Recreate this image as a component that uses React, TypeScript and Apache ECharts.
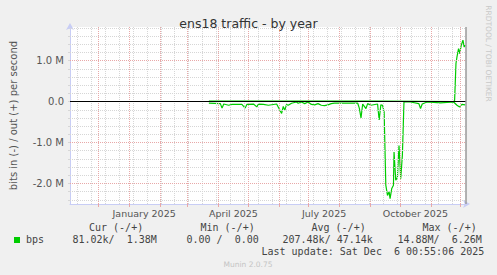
import React, { useEffect, useRef } from 'react';
import * as echarts from 'echarts';

// x values: days relative to 1 January 2025
const monthStartDays = [-31, 0, 31, 59, 90, 120, 151, 181, 212, 243, 273, 304, 334];
const minorGridDays = [-52, -38, -24, -10, 4, 18, 32, 46, 60, 74, 88, 102, 116, 130, 144, 158, 172, 186, 200, 214, 228, 242, 256, 270, 284, 298, 312, 326];
const quarterLabelDays = [15.2, 105.2, 196.5, 288.5];
const quarterLabels = ['January 2025', 'April 2025', 'July 2025', 'October 2025'];

const yLabelValues = [-2e6, -1e6, 0, 1e6];
const yMajorGrid = [-2e6, -1e6, 1e6];
const yMinorGrid = [-2.4e6, -2.2e6, -1.8e6, -1.6e6, -1.4e6, -1.2e6, -0.8e6, -0.6e6, -0.4e6, -0.2e6, 0.2e6, 0.4e6, 0.6e6, 0.8e6, 1.2e6, 1.4e6, 1.6e6, 1.8e6];
const yTickValues = [-2.4e6, -2.2e6, -2e6, -1.8e6, -1.6e6, -1.4e6, -1.2e6, -1e6, -0.8e6, -0.6e6, -0.4e6, -0.2e6, 0, 0.2e6, 0.4e6, 0.6e6, 0.8e6, 1e6, 1.2e6, 1.4e6, 1.6e6, 1.8e6];

// "in" traffic (drawn negative), bits per second
const inDays = [80.4, 92, 93.7, 95.4, 100.4, 103.7, 113.7, 117, 118.7, 125.4, 128.7, 130.4, 135.4, 140.4, 148.7, 152, 153.7, 155.4, 157, 158.7, 160.4, 163.7, 168.7, 170.4, 173.7, 177, 180.4, 183.7, 187, 190.4, 193.7, 197, 200.4, 203.7, 207, 220.4, 230.4, 232, 233.7, 235.4, 238.7, 240.4, 243.7, 250.4, 252, 253.7, 255.4, 257, 258.7, 260.4, 262, 263, 264.7, 266.4, 267, 268.7, 270.4, 272, 273.7, 275.4, 277, 283.7, 292, 293.7, 295.4, 300.4, 313.7, 327, 330.4, 333, 335.4, 338.7];
const inValues = [-0.04e6, -0.05e6, -0.16e6, -0.06e6, -0.09e6, -0.07e6, -0.07e6, -0.16e6, -0.07e6, -0.06e6, -0.13e6, -0.06e6, -0.07e6, -0.09e6, -0.06e6, -0.21e6, -0.29e6, -0.12e6, -0.21e6, -0.07e6, -0.09e6, -0.04e6, -0.01e6, -0.04e6, -0.01e6, -0.05e6, -0.01e6, -0.07e6, -0.08e6, -0.05e6, -0.09e6, -0.1e6, -0.08e6, -0.05e6, -0.04e6, -0.04e6, -0.04e6, -0.16e6, -0.4e6, -0.06e6, -0.17e6, -0.05e6, -0.09e6, -0.06e6, -0.45e6, -0.08e6, -0.09e6, -0.25e6, -2.04e6, -2.29e6, -2.2e6, -2.37e6, -2.12e6, -2.04e6, -1.23e6, -1.92e6, -1.85e6, -1.07e6, -1.88e6, -1.31e6, -0.01e6, -0.01e6, -0.05e6, -0.17e6, -0.06e6, -0.01e6, -0.03e6, -0.01e6, -0.09e6, -0.13e6, -0.07e6, -0.08e6];

// "out" traffic (drawn positive), bits per second
const outDays = [80.4, 150, 250, 327, 328, 329.4, 330.4, 332, 333, 334.7, 336.4, 337.7, 338.7];
const outValues = [0.01e6, 0.01e6, 0.01e6, 0, 0.02e6, 0.93e6, 1.09e6, 1.29e6, 1.17e6, 1.37e6, 1.5e6, 1.33e6, 1.38e6];

const nowDay = 339;

const legendHeaders = ['Cur (-/+)', 'Min (-/+)', 'Avg (-/+)', 'Max (-/+)'];
const legendValues = ['81.02k/  1.38M', '0.00 /  0.00', '207.48k/ 47.14k', '14.88M/  6.26M'];
const lastUpdate = 'Last update: Sat Dec  6 00:55:06 2025';

const GREEN = '#00cc00';
const MONO = '"DejaVu Sans Mono", monospace';
const SANS = '"DejaVu Sans", sans-serif';

export default function App() {
  const ref = useRef<HTMLDivElement>(null);
  useEffect(() => {
    if (!ref.current) return;
    const chart = echarts.init(ref.current, undefined, { renderer: 'svg' });

    const grey = { color: '#d6d6d6', type: [1, 1] as any, width: 1 };
    const red = { color: '#e8a8a8', type: [1, 1] as any, width: 1 };
    const gridLines: any[] = [];
    yMinorGrid.forEach((v) => gridLines.push({ yAxis: v, lineStyle: grey }));
    minorGridDays.forEach((d) => gridLines.push({ xAxis: d, lineStyle: grey }));
    yMajorGrid.forEach((v) => gridLines.push({ yAxis: v, lineStyle: red }));
    monthStartDays.forEach((d) => gridLines.push({ xAxis: d, lineStyle: red }));

    const headerX = [89, 200.5, 311.5, 422.5];
    const valueX = [72.5, 186.5, 282.5, 397.5];

    const graphic: any[] = [
      { type: 'rect', shape: { x: 14, y: 237, width: 6, height: 6 }, style: { fill: GREEN } },
      { type: 'text', x: 26, y: 239.5, style: { text: 'bps', font: `10px ${MONO}`, fill: '#444', verticalAlign: 'middle' } },
      ...legendHeaders.map((t, i) => ({ type: 'text', x: headerX[i], y: 227.5, style: { text: t, font: `10px ${MONO}`, fill: '#444', verticalAlign: 'middle' } })),
      ...legendValues.map((t, i) => ({ type: 'text', x: valueX[i], y: 239.5, style: { text: t, font: `10px ${MONO}`, fill: '#444', verticalAlign: 'middle' } })),
      { type: 'text', x: 261.5, y: 251.5, style: { text: lastUpdate, font: `10px ${MONO}`, fill: '#444', verticalAlign: 'middle' } },
      { type: 'text', x: 248, y: 264, style: { text: 'Munin 2.0.75', font: `7.5px ${SANS}`, fill: '#c4c4c4', align: 'center', verticalAlign: 'middle' } },
      { type: 'text', x: 488.5, y: 53.5, rotation: -Math.PI / 2, style: { text: 'RRDTOOL / TOBI OETIKER', font: `7.5px ${SANS}`, fill: '#c8c8c8', align: 'center', verticalAlign: 'middle' } },
    ];

    chart.setOption({
      animation: false,
      backgroundColor: '#f0f0f0',
      title: {
        text: 'ens18 traffic - by year',
        left: 'center',
        top: 12,
        textStyle: { fontSize: 12.5, fontWeight: 'normal', color: '#333', fontFamily: SANS },
      },
      grid: { left: 67, top: 27, width: 399, height: 177, show: true, backgroundColor: '#ffffff', borderWidth: 0 },
      xAxis: {
        type: 'value',
        min: -59.5,
        max: 339.5,
        axisLine: { show: true, onZero: false, lineStyle: { color: '#c8cdf5', width: 1 }, symbol: ['none', 'arrow'], symbolSize: [6, 7], symbolOffset: [0, 4] },
        axisTick: { show: true, customValues: monthStartDays, length: 3, lineStyle: { color: '#e8a8a8' } },
        axisLabel: {
          customValues: quarterLabelDays,
          formatter: (v: number) => {
            const i = quarterLabelDays.findIndex((d) => Math.abs(d - v) < 0.01);
            return i >= 0 ? quarterLabels[i] : '';
          },
          color: '#555', fontSize: 9.5, fontFamily: SANS, margin: 4,
        },
        splitLine: { show: false },
      },
      yAxis: {
        type: 'value',
        min: -2.5e6,
        max: 1.82e6,
        axisLine: { show: true, onZero: false, lineStyle: { color: '#c8cdf5', width: 1 }, symbol: ['none', 'arrow'], symbolSize: [6, 7], symbolOffset: [0, 4] },
        axisTick: { show: true, customValues: yTickValues, length: 2, lineStyle: { color: '#d6d6d6' } },
        axisLabel: {
          customValues: yLabelValues,
          formatter: (v: number) => (v === 0 ? '0.0' : (v / 1e6).toFixed(1) + ' M'),
          color: '#555', fontSize: 10, fontFamily: SANS, margin: 6,
        },
        splitLine: { show: false },
        name: 'bits in (-) / out (+) per second',
        nameLocation: 'middle',
        nameRotate: 90,
        nameGap: 52,
        nameTextStyle: { color: '#555', fontSize: 10, fontFamily: SANS },
      },
      series: [
        {
          type: 'line',
          data: [[-59.5, 0]],
          symbol: 'none',
          lineStyle: { opacity: 0 },
          z: 1,
          silent: true,
          markLine: { silent: true, symbol: ['none', 'none'], label: { show: false }, data: gridLines },
        },
        {
          name: 'in',
          type: 'line',
          data: inDays.map((d, i) => [d, inValues[i]]),
          symbol: 'none',
          lineStyle: { color: GREEN, width: 1.2 },
          itemStyle: { color: GREEN },
          z: 3,
        },
        {
          name: 'out',
          type: 'line',
          data: outDays.map((d, i) => [d, outValues[i]]),
          symbol: 'none',
          lineStyle: { color: GREEN, width: 1.2 },
          itemStyle: { color: GREEN },
          z: 3,
          markLine: {
            silent: true,
            symbol: ['none', 'none'],
            label: { show: false },
            data: [
              { yAxis: 0, lineStyle: { color: '#000000', type: 'solid', width: 1.2 } },
              { xAxis: nowDay, lineStyle: { color: '#9a9a9a', type: 'solid', width: 1.5 } },
            ],
          },
        },
      ],
      graphic,
    });
    return () => chart.dispose();
  }, []);
  return <div ref={ref} style={{ position: 'fixed', left: 0, top: 0, width: 497, height: 275 }} />;
}
